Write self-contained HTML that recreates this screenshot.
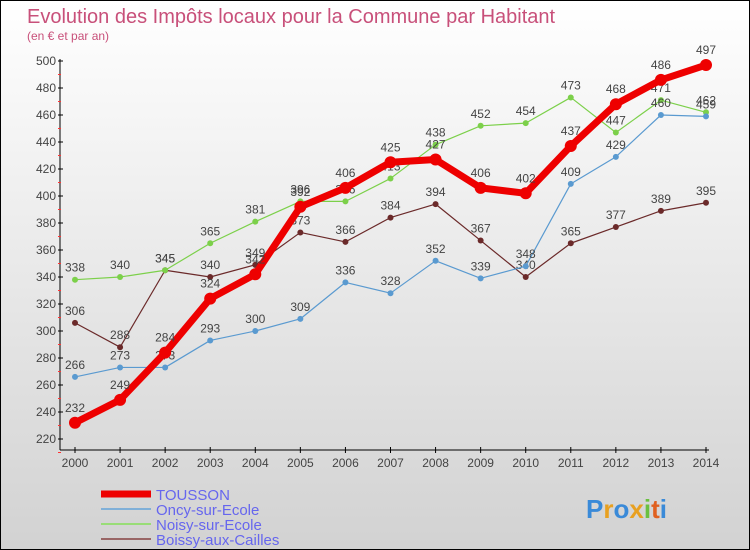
<!DOCTYPE html>
<html><head><meta charset="utf-8"><style>
body{margin:0}
#c{width:750px;height:550px;position:relative;box-sizing:border-box;border:1px solid #000;background:linear-gradient(#fff,#d2d2d2);font-family:"Liberation Sans",sans-serif;overflow:hidden}
</style></head><body>
<div id="c">
<svg id="s" width="748" height="548"></svg>
</div>
<script>
const years=[2000,2001,2002,2003,2004,2005,2006,2007,2008,2009,2010,2011,2012,2013,2014];
const yTicks=[220,240,260,280,300,320,340,360,380,400,420,440,460,480,500];
const tousson=[232,249,284,324,342,392,406,425,427,406,402,437,468,486,497];
const oncy=[266,273,273,293,300,309,336,328,352,339,348,409,429,460,459];
const noisy=[338,340,345,365,381,396,396,413,438,452,454,473,447,471,462];
const boissy=[306,288,345,340,349,373,366,384,394,367,340,365,377,389,395];
const names=["TOUSSON","Oncy-sur-Ecole","Noisy-sur-Ecole","Boissy-aux-Cailles"];
const S=document.getElementById('s');const NS="http://www.w3.org/2000/svg";
function X(i){return 74+i*(705-74)/14}
function Y(v){return 438-(v-220)*(378/280)}
function el(t,a,txt,name){const e=document.createElementNS(NS,t);for(const k in a)e.setAttribute(k,a[k]);if(txt!==undefined)e.textContent=txt;


S.appendChild(e);return e}
el('text',{x:26,y:22,'font-size':20,fill:'#c8507a'},"Evolution des Impôts locaux pour la Commune par Habitant","chart-title");
el('text',{x:26,y:39,'font-size':12,fill:'#c8507a'},"(en € et par an)","chart-subtitle");
el('line',{x1:59,y1:58,x2:59,y2:449,stroke:'#000'},undefined,"y-axis");
el('line',{x1:59,y1:449,x2:708,y2:449,stroke:'#000'},undefined,"x-axis");
yTicks.forEach(v=>{const y=Y(v);el('line',{x1:57,y1:y,x2:62,y2:y,stroke:'#000'},undefined,"y-tick");
el('line',{x1:57,y1:y+13.5,x2:60,y2:y+13.5,stroke:'#f33'},undefined,"y-minor-tick");
el('text',{x:55,y:y+4,'font-size':12,'text-anchor':'end',fill:'#444'},v,"y-tick-label")});
years.forEach((yr,i)=>{el('line',{x1:X(i),y1:446,x2:X(i),y2:452,stroke:'#000'},undefined,"x-tick");
el('text',{x:X(i),y:466,'font-size':12,'text-anchor':'middle',fill:'#444'},yr,"x-tick-label")});
function series(d,col,w,r,name){el('polyline',{points:d.map((v,i)=>X(i)+','+Y(v)).join(' '),fill:'none',stroke:col,'stroke-width':w,'stroke-linejoin':'round'},undefined,name+'-line');
d.forEach((v,i)=>{el('circle',{cx:X(i),cy:Y(v),r:r,fill:col},undefined,name+'-point');
el('text',{x:X(i),y:Y(v)-(r+5),'font-size':12,'text-anchor':'middle',fill:'#444'},v,name+'-value-label')})}
series(boissy,'#6b2a2a',1.2,3,'boissy');
series(noisy,'#7cd04a',1.2,3,'noisy');
series(oncy,'#5a9ad0',1.2,3,'oncy');
series(tousson,'#ee0000',7,6,'tousson');
const lc=['#ee0000','#80b0d8','#99dd77','#996666'],lw=[7,2,2,2];
names.forEach((n,i)=>{const y=493+i*15;el('line',{x1:100,y1:y,x2:150,y2:y,stroke:lc[i],'stroke-width':lw[i]},undefined,"legend-swatch");
el('text',{x:155,y:y+6,'font-size':15,fill:'#6666ee'},n,"legend-entry")});
const px=[["P","#3a8ad8"],["r","#e8a020"],["o","#3a8ad8"],["x","#e8a020"],["i","#6ac040"],["t","#e06020"],["i","#3a8ad8"]];
const lg=el('text',{x:585,y:517,'font-size':26,'font-weight':'bold'},undefined,"proxiti-logo");
px.forEach(p=>{const t=document.createElementNS(NS,'tspan');t.setAttribute('fill',p[1]);t.textContent=p[0];lg.appendChild(t)});
</script>
</body></html>
